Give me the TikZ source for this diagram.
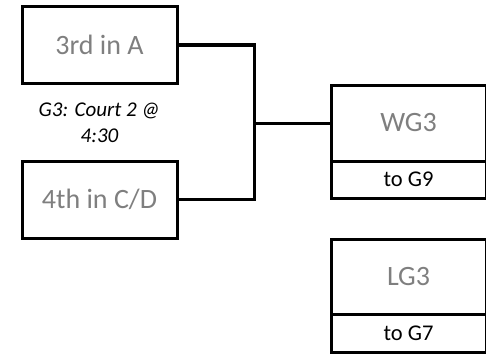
\documentclass[tikz,border=0pt]{standalone}
\usepackage{fontspec}
\setmainfont{Carlito}
\begin{document}
\begin{tikzpicture}[x=1pt,y=-1pt,
  box/.style={draw=black,line width=3pt,minimum width=155pt,inner sep=0pt},
  big/.style={font=\fontsize{28}{32}\selectfont,text=gray50},
  small/.style={font=\fontsize{22.5}{26}\selectfont,text=black},
  conn/.style={draw=black,line width=3pt}]
\definecolor{gray50}{HTML}{7F7F7F}
\useasboundingbox (0,0) rectangle (486,353);
\node[box,big,minimum height=76pt] (A) at (99.5,45) {3rd in A};
\node[box,big,minimum height=77pt] (CD) at (99.5,199.5) {4th in C/D};
\node[box,big,minimum height=76pt] (W) at (408.5,123) {WG3};
\node[box,small,minimum height=37pt] (W9) at (408.5,179.5) {to G9};
\node[box,big,minimum height=75pt] (L) at (408.5,276.5) {LG3};
\node[box,small,minimum height=38pt] (L7) at (408.5,333) {to G7};
\node[align=center,font=\fontsize{21}{26}\selectfont\itshape,inner sep=0pt] (cap) at (99.5,123) {G3: Court 2 @\\4:30};
\coordinate (j) at (254,123);
\draw[conn] (A.east) -| (j) |- (CD.east);
\draw[conn] (j) -- (W.west);
\end{tikzpicture}
\end{document}
